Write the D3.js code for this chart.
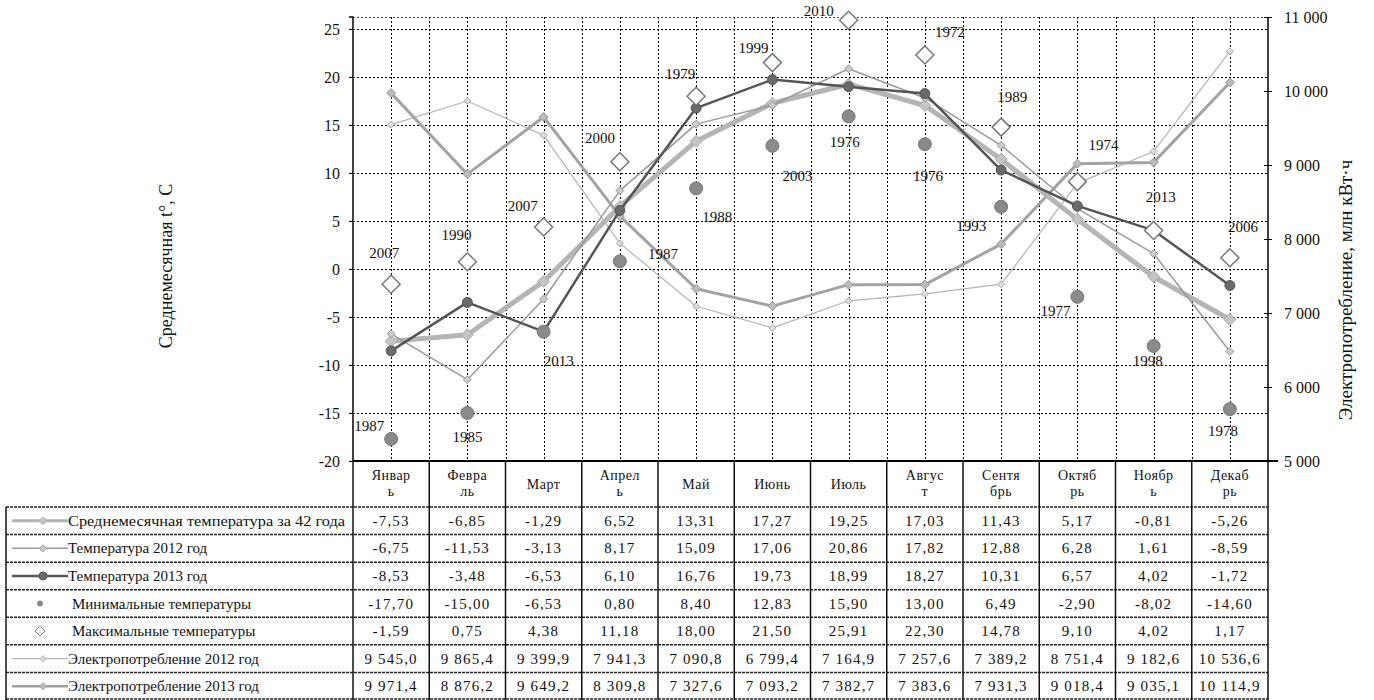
<!DOCTYPE html>
<html><head><meta charset="utf-8">
<script src="https://cdn.jsdelivr.net/npm/d3@7/dist/d3.min.js"></script>
<style>
html,body{margin:0;padding:0;background:#fff;}
svg{display:block;font-family:"Liberation Serif","Times New Roman",serif;}
svg text{font-family:"Liberation Serif","Times New Roman",serif;}
</style></head>
<body>
<svg id="chart" width="1374" height="700"></svg>
<script>
// ---------- DATA ----------
const months = ["Январь","Февраль","Март","Апрель","Май","Июнь","Июль","Август","Сентябрь","Октябрь","Ноябрь","Декабрь"];
const avg42 = [-7.53,-6.85,-1.29,6.52,13.31,17.27,19.25,17.03,11.43,5.17,-0.81,-5.26];
const temp2012 = [-6.75,-11.53,-3.13,8.17,15.09,17.06,20.86,17.82,12.88,6.28,1.61,-8.59];
const temp2013 = [-8.53,-3.48,-6.53,6.10,16.76,19.73,18.99,18.27,10.31,6.57,4.02,-1.72];
const minTemp = [-17.70,-15.00,-6.53,0.80,8.40,12.83,15.90,13.00,6.49,-2.90,-8.02,-14.60];
const maxTemp = [-1.59,0.75,4.38,11.18,18.00,21.50,25.91,22.30,14.78,9.10,4.02,1.17];
const minYears = ["1987","1985","2013","1987","1988","2003","1976","1976","1993","1977","1998","1978"];
const maxYears = ["2007","1990","2007","2000","1979","1999","2010","1972","1989","1974","2013","2006"];
const elec2012 = [9545.0,9865.4,9399.9,7941.3,7090.8,6799.4,7164.9,7257.6,7389.2,8751.4,9182.6,10536.6];
const elec2013 = [9971.4,8876.2,9649.2,8309.8,7327.6,7093.2,7382.7,7383.6,7931.3,9018.4,9035.1,10114.9];
const leftTicks = [-20,-15,-10,-5,0,5,10,15,20,25];
const rightTicks = [5000,6000,7000,8000,9000,10000,11000];
const leftTitle = "Среднемесячная t°, С";
const rightTitle = "Электропотребление, млн кВт·ч";
const rowNames = ["Среднемесячная температура за 42 года","Температура 2012 год","Температура 2013 год","Минимальные температуры","Максимальные температуры","Электропотребление 2012 год","Электропотребление 2013 год"];

// ---------- LAYOUT (not data) ----------
const minLabelOff = [[-22,-8],[0,29],[15,34],[43,-2],[21,34],[25,35],[-4,31],[3,37],[-30,24],[-22,19],[-6,20],[-7,27]];
const maxLabelOff = [[-7,-26],[-11,-22],[-21,-16],[-20,-19],[-16,-17],[-19,-10],[-30,-4],[25,-18],[11,-25],[26,-32],[7,-28],[13,-26]];

const svg = d3.select("#chart");
const X0 = 353, X1 = 1268, YT = 17, YB = 461;
const x = d3.scaleBand().domain(months).range([X0, X1]);
const cx = m => x(m) + x.bandwidth()/2;
const yL = d3.scaleLinear().domain([-20, 26.25]).range([YB, YT]);
const yR = d3.scaleLinear().domain([5000, 11000]).range([YB, YT]);

const loc = d3.formatLocale({decimal:",", thousands:"\u00a0", grouping:[3], currency:["",""], minus:"-"});
const fT = loc.format(".2f"), fE = loc.format(",.1f"), fR = loc.format(",d");

const g = svg.append("g").attr("shape-rendering","crispEdges");

// gridlines
const dash = "2,2";
const gc = "#000";
g.selectAll(".hg").data(leftTicks.filter(t => t > -20)).join("line")
  .attr("x1", X0).attr("x2", X1).attr("y1", d => Math.round(yL(d))+0.5).attr("y2", d => Math.round(yL(d))+0.5)
  .attr("stroke", gc).attr("stroke-width", 1).attr("stroke-dasharray", dash);
g.append("line").attr("x1", X0).attr("x2", X1).attr("y1", YT+0.5).attr("y2", YT+0.5)
  .attr("stroke", "#444").attr("stroke-dasharray", "2,2");
g.selectAll(".vg").data(months).join("line")
  .attr("x1", d => Math.round(cx(d))+0.5).attr("x2", d => Math.round(cx(d))+0.5).attr("y1", YT).attr("y2", YB)
  .attr("stroke", gc).attr("stroke-dasharray", dash);
g.selectAll(".vb").data(months.slice(1)).join("line")
  .attr("x1", d => Math.round(x(d))+0.5).attr("x2", d => Math.round(x(d))+0.5).attr("y1", YT).attr("y2", YB)
  .attr("stroke", gc).attr("stroke-dasharray", dash);

// axes
const axL = d3.axisLeft(yL).tickValues(leftTicks).tickSize(4).tickPadding(9).tickFormat(d => String(d).replace("−","-"));
const gl = svg.append("g").attr("transform", `translate(${X0},0)`).call(axL);
gl.attr("font-family", null);
gl.select(".domain").attr("d", `M-4,${YT}H0V${YB}`).attr("stroke", "#000").attr("stroke-width", 1.5);
gl.selectAll("text").attr("font-size", 16).attr("fill", "#111");
const axR = d3.axisRight(yR).tickValues(rightTicks).tickSize(4).tickPadding(12).tickFormat(fR);
const gr = svg.append("g").attr("transform", `translate(${X1},0)`).call(axR);
gr.attr("font-family", null);
gr.select(".domain").attr("d", `M0,${YT}V${YB}`).attr("stroke", "#000").attr("stroke-width", 1.5);
gr.selectAll(".tick line").attr("x1", -4);
gr.selectAll("text").attr("font-size", 16).attr("fill", "#111");
svg.append("line").attr("x1", X0).attr("x2", X1 + 10).attr("y1", YB).attr("y2", YB).attr("stroke", "#000").attr("stroke-width", 2);

// titles
svg.append("text").attr("transform", `translate(172,266) rotate(-90)`).attr("text-anchor", "middle")
  .attr("font-size", 18).attr("fill", "#111").text(leftTitle);
svg.append("text").attr("transform", `translate(1352,290) rotate(-90)`).attr("text-anchor", "middle")
  .attr("font-size", 19).attr("fill", "#111").text(rightTitle);

// lines
const lineL = d3.line().x((d,i) => cx(months[i])).y(d => yL(d));
const lineR = d3.line().x((d,i) => cx(months[i])).y(d => yR(d));
const diamond = r => `M0,${-r}L${r},0L0,${r}L${-r},0Z`;

function drawSeries(vals, gen, yS, color, width, marker, mcolor, msize, mfill) {
  const s = svg.append("g");
  s.append("path").attr("d", gen(vals)).attr("fill", "none").attr("stroke", color).attr("stroke-width", width).attr("stroke-linejoin","round");
  s.selectAll("path.m").data(vals).join("path").attr("class","m")
    .attr("transform", (d,i) => `translate(${cx(months[i])},${yS(d)})`)
    .attr("d", marker === "circle" ? d3.symbol(d3.symbolCircle, msize*msize*3.14)() : diamond(msize))
    .attr("fill", mfill).attr("stroke", mcolor).attr("stroke-width", 1);
}
drawSeries(elec2012, lineR, yR, "#b4b4b4", 1.2, "diamond", "#aaa", 3.5, "#ddd");
drawSeries(elec2013, lineR, yR, "#a3a3a3", 3, "diamond", "#999", 4.5, "#bbb");
drawSeries(avg42, lineL, yL, "#b5b5b5", 5, "diamond", "#aaa", 6, "#c4c4c4");
drawSeries(temp2012, lineL, yL, "#9a9a9a", 1.5, "diamond", "#999", 4, "#ccc");
drawSeries(temp2013, lineL, yL, "#555", 2.5, "circle", "#555", 5, "#6a6a6a");

// min / max points
svg.append("g").selectAll("circle").data(minTemp).join("circle")
  .attr("cx", (d,i) => cx(months[i])).attr("cy", d => yL(d)).attr("r", 6.5)
  .attr("fill", "#8a8a8a").attr("stroke", "#777");
svg.append("g").selectAll("path").data(maxTemp).join("path")
  .attr("transform", (d,i) => `translate(${cx(months[i])},${yL(d)})`)
  .attr("d", diamond(9)).attr("fill", "#fff").attr("stroke", "#777").attr("stroke-width", 1.5);

// year labels
svg.append("g").selectAll("text").data(minTemp).join("text")
  .attr("x", (d,i) => cx(months[i]) + minLabelOff[i][0]).attr("y", (d,i) => yL(d) + minLabelOff[i][1])
  .attr("text-anchor", "middle").attr("font-size", 15).attr("fill", "#111").text((d,i) => minYears[i]);
svg.append("g").selectAll("text").data(maxTemp).join("text")
  .attr("x", (d,i) => cx(months[i]) + maxLabelOff[i][0]).attr("y", (d,i) => yL(d) + maxLabelOff[i][1])
  .attr("text-anchor", "middle").attr("font-size", 15).attr("fill", "#111").text((d,i) => maxYears[i]);

// ---------- TABLE ----------
const TX0 = 6, HY0 = YB, HY1 = 507, TB = 700;
const rowH = (TB - HY1) / rowNames.length;
const t = svg.append("g");
// header
months.forEach(m => {
  const parts = m.length > 5 ? [m.slice(0,5), m.slice(5)] : [m];
  const tx = t.append("text").attr("text-anchor","middle").attr("font-size",14).attr("letter-spacing",0.5).attr("fill","#111");
  const mid = (HY0 + HY1)/2;
  parts.forEach((p,k) => {
    const yy = parts.length === 2 ? mid - 4 + k*16 : mid + 5;
    tx.append("tspan").attr("x", cx(m)).attr("y", yy).text(p);
  });
});
const rows = [avg42, temp2012, temp2013, minTemp, maxTemp, elec2012, elec2013];
const fmts = [fT,fT,fT,fT,fT,fE,fE];
rows.forEach((vals, r) => {
  const yc = HY1 + rowH*r + rowH/2 + 5;
  vals.forEach((v,i) => {
    t.append("text").attr("x", cx(months[i])).attr("y", yc).attr("text-anchor","middle")
      .attr("font-size", 15).attr("letter-spacing", 1.2).attr("fill","#111").text(fmts[r](v));
  });
  t.append("text").attr("x", r===3||r===4 ? 72 : 68).attr("y", yc).attr("font-size", 15).attr("fill","#111")
    .attr("textLength", r===0 ? 277 : null).attr("lengthAdjust","spacingAndGlyphs").text(rowNames[r]);
});
// legend keys
const ly = r => HY1 + rowH*r + rowH/2;
const keys = [
  {r:0, c:"#b2b2b2", w:3, m:"diamond", s:4, f:"#c4c4c4"},
  {r:1, c:"#9a9a9a", w:1.5, m:"diamond", s:3.5, f:"#ccc"},
  {r:2, c:"#555", w:2.5, m:"circle", s:4, f:"#6a6a6a"},
  {r:5, c:"#b4b4b4", w:1.2, m:"diamond", s:3, f:"#ddd"},
  {r:6, c:"#a0a0a0", w:2.5, m:"diamond", s:3.5, f:"#bbb"}
];
keys.forEach(k => {
  t.append("line").attr("x1", 12).attr("x2", 68).attr("y1", ly(k.r)).attr("y2", ly(k.r)).attr("stroke", k.c).attr("stroke-width", k.w);
  t.append("path").attr("transform", `translate(43,${ly(k.r)})`)
    .attr("d", k.m==="circle" ? d3.symbol(d3.symbolCircle, k.s*k.s*3.14)() : diamond(k.s))
    .attr("fill", k.f).attr("stroke", k.c);
});
t.append("circle").attr("cx", 40).attr("cy", ly(3)).attr("r", 3).attr("fill", "#8a8a8a");
t.append("path").attr("transform", `translate(40,${ly(4)})`).attr("d", diamond(5)).attr("fill","#fff").attr("stroke","#777");
// table grid
for (let r = 0; r <= rowNames.length; r++) {
  const yy = HY1 + rowH*r - (r===rowNames.length ? 1 : 0);
  t.append("line").attr("x1", TX0).attr("x2", X1).attr("y1", yy).attr("y2", yy)
    .attr("stroke", "#222").attr("stroke-width", 1.5).attr("stroke-dasharray", "3,1");
}
months.forEach(m => {
  t.append("line").attr("x1", x(m)).attr("x2", x(m)).attr("y1", HY0).attr("y2", TB).attr("stroke","#111").attr("stroke-width",1.5);
});
t.append("line").attr("x1", X1).attr("x2", X1).attr("y1", HY0).attr("y2", TB).attr("stroke","#111").attr("stroke-width",1.5);
t.append("line").attr("x1", TX0).attr("x2", TX0).attr("y1", HY1).attr("y2", TB).attr("stroke","#111").attr("stroke-width",1.5);
</script>
</body></html>
